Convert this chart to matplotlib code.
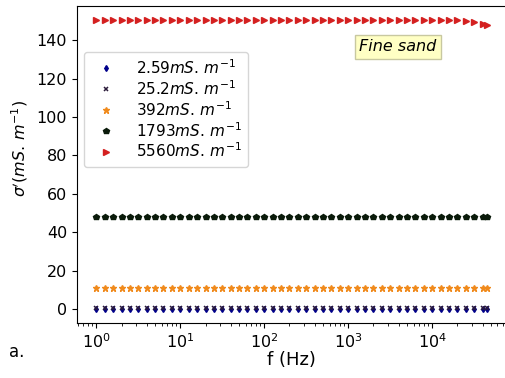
import numpy as np
import matplotlib
matplotlib.use("Agg")
from matplotlib import pyplot as plt

# frequencies (Hz), ~10 per decade
freq = [1.0, 1.26, 1.58, 2.0, 2.51, 3.16, 3.98, 5.01, 6.31, 7.94,
        10.0, 12.6, 15.8, 20.0, 25.1, 31.6, 39.8, 50.1, 63.1, 79.4,
        100.0, 126.0, 158.0, 200.0, 251.0, 316.0, 398.0, 501.0, 631.0, 794.0,
        1000.0, 1260.0, 1580.0, 2000.0, 2510.0, 3160.0, 3980.0, 5010.0, 6310.0, 7940.0,
        10000.0, 12600.0, 15800.0, 20000.0, 25100.0, 31600.0, 39800.0, 45000.0]

n = len(freq)
s_259 = [0.26] * n
s_252 = [0.4] * n
s_392 = [11.0] * n
s_1793 = [48.0] * n
s_5560 = [150.3] * (n - 4) + [149.9, 149.3, 148.6, 148.0]

labels = [r"2.59$mS.\,m^{-1}$", r"25.2$mS.\,m^{-1}$", r"392$mS.\,m^{-1}$",
          r"1793$mS.\,m^{-1}$", r"5560$mS.\,m^{-1}$"]

fig = plt.figure(figsize=(5.05, 3.78), dpi=100)
ax = fig.add_axes([0.152, 0.1455, 0.851, 0.8385])

ax.plot(freq, s_259, 'd', color='darkblue', ms=3, label=labels[0])
ax.plot(freq, s_252, 'x', color='#2a1a3a', ms=3, mew=1.1, label=labels[1])
ax.plot(freq, s_392, '*', color='#f08a1c', ms=4.5, label=labels[2])
ax.plot(freq, s_1793, 'p', color='#0a1a0a', ms=4.3, label=labels[3])
ax.plot(freq, s_5560, '>', color='#d42020', ms=4.3, label=labels[4])

ax.set_xscale('log')
ax.tick_params(labelsize=11.5)
ax.set_xlabel('f (Hz)', fontsize=13, labelpad=0)
ax.set_ylabel(r"$\sigma'(mS.\,m^{-1})$", fontsize=11.5)
ax.yaxis.set_label_coords(-0.108, 0.55)

ax.legend(loc='upper left', bbox_to_anchor=(0.0, 0.88), fontsize=11,
          handletextpad=1.0, borderpad=0.4, labelspacing=0.15)

ax.text(0.657, 0.857, 'Fine sand', transform=ax.transAxes, fontsize=11.5,
        style='italic', bbox=dict(boxstyle='square,pad=0.28', facecolor='#ffffc4',
                                  edgecolor='#c8c8a0'))

fig.text(0.018, 0.055, 'a.', fontsize=12)

fig.savefig('out.png', dpi=100)
